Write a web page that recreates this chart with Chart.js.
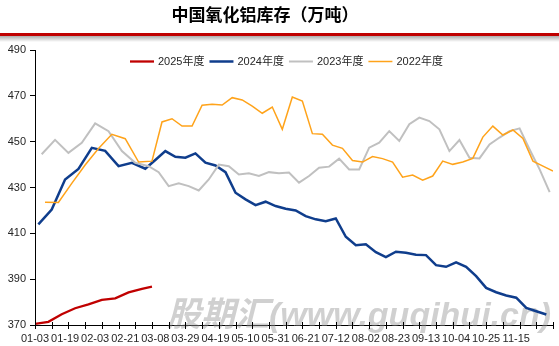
<!DOCTYPE html>
<html>
<head>
<meta charset="utf-8">
<script src="https://cdn.jsdelivr.net/npm/chart.js@4.4.1/dist/chart.umd.min.js"></script>
<style>
  html, body { margin: 0; padding: 0; background: #fff; }
  #wrap { width: 559px; height: 346px; }
</style>
</head>
<body>
<div id="wrap"><canvas id="chart" width="559" height="346"></canvas></div>
<script>
// Axis labels, one every 9 date slots
const xLabels = ['01-03', '01-19', '02-03', '02-21', '03-08', '03-29', '04-19', '05-10', '05-31',
                 '06-21', '07-12', '08-02', '08-23', '09-13', '10-04', '10-25', '11-15'];

// Weekly alumina inventory, 10k tonnes
const inv2025 = [370.5, 371.4, 374.7, 377.3, 379.0, 381.0, 381.6, 384.2, 385.8, 386.7];
const inv2024 = [413.9, 420.4, 433.5, 438.1, 447.3, 446.0, 439.3, 440.8, 438.2, 442.0,
                 445.9, 443.4, 443.0, 444.9, 440.8, 439.6, 436.7, 427.7, 424.8, 422.3,
                 423.8, 421.9, 420.7, 420.0, 417.5, 416.1, 415.3, 416.5, 408.5, 404.8,
                 405.2, 401.8, 399.6, 402.0, 401.5, 400.7, 400.5, 396.1, 395.4, 397.3,
                 395.4, 391.3, 386.2, 384.3, 382.9, 381.9, 377.5, 376.0, 374.6];
const inv2023 = [444.5, 450.8, 445.1, 449.5, 458.0, 454.6, 445.9, 440.8, 439.3, 436.7,
                 430.6, 431.8, 430.6, 428.7, 433.5, 440.0, 439.3, 435.7, 436.2, 435.0,
                 436.7, 436.2, 436.5, 432.1, 435.0, 438.6, 439.1, 442.6, 437.9, 437.9,
                 447.4, 449.6, 454.6, 450.3, 457.6, 460.5, 459.0, 455.4, 445.9, 450.7,
                 443.0, 442.7, 448.8, 451.8, 454.6, 455.8, 446.6, 437.9, 428.0];
const inv2022 = [423.6, 423.5, 431.8, 439.8, 447.0, 453.2, 451.3, 441.1, 441.5, 458.6,
                 460.0, 456.8, 456.8, 465.9, 466.3, 466.0, 469.2, 468.2, 465.5, 462.4,
                 465.1, 455.4, 469.5, 467.7, 453.5, 453.2, 448.5, 447.1, 441.8, 441.1,
                 443.5, 442.6, 441.1, 434.5, 435.4, 433.2, 435.0, 441.5, 440.1, 441.1,
                 442.7, 452.0, 456.8, 452.9, 455.1, 451.4, 441.5, 439.3, 437.2];

const seriesNames = ['2025年度', '2024年度', '2023年度', '2022年度'];

// The date axis holds every report date of all years in order. While all four
// years report, a week takes 4 slots; afterwards only 3 years remain, so 3 slots.
const FOUR_SLOT_WEEKS = 8;
const LABEL_EVERY = 9;
const TICK_EVERY = 5;
const LAST_SLOT = 155;
function slotOf(firstSlot, week) {
  return firstSlot + (week < FOUR_SLOT_WEEKS
    ? 4 * week
    : 4 * FOUR_SLOT_WEEKS + 3 * (week - FOUR_SLOT_WEEKS));
}
function toPoints(values, firstSlot) {
  return values.map((v, k) => ({ x: slotOf(firstSlot, k), y: v }));
}

const FONT = '"Liberation Sans", "Noto Sans CJK SC", sans-serif';
const TEXT = '#262626';

const series = [
  { label: seriesNames[0], data: toPoints(inv2025, 0), color: '#c00000', width: 2.3, order: 3 },
  { label: seriesNames[1], data: toPoints(inv2024, 1), color: '#0f3d8c', width: 2.5, order: 2 },
  { label: seriesNames[2], data: toPoints(inv2023, 2), color: '#c0c0c0', width: 2.0, order: 1 },
  { label: seriesNames[3], data: toPoints(inv2022, 3), color: '#ffa31a', width: 1.5, order: 0 }
];

// Heading, red rule, watermark, crossing tick marks and the inline legend
const decor = {
  id: 'decor',
  beforeDraw(chart) {
    const ctx = chart.ctx;
    ctx.save();
    ctx.fillStyle = '#fff';
    ctx.fillRect(0, 0, chart.width, chart.height);
    ctx.fillStyle = '#000';
    ctx.font = 'bold 17px "Noto Sans CJK SC", sans-serif';
    ctx.textAlign = 'center';
    ctx.textBaseline = 'middle';
    ctx.fillText('中国氧化铝库存（万吨）', 265, 15);
    ctx.fillStyle = '#c00000';
    ctx.fillRect(0, 33, chart.width, 3);
    const g = ctx.createLinearGradient(0, 36, 0, 42);
    g.addColorStop(0, 'rgba(0,0,0,0.32)');
    g.addColorStop(1, 'rgba(0,0,0,0)');
    ctx.fillStyle = g;
    ctx.fillRect(0, 36, chart.width, 6);
    ctx.restore();
  },
  beforeDatasetsDraw(chart) {
    const ctx = chart.ctx;
    ctx.save();
    ctx.font = 'italic bold 34px "Liberation Sans", "Noto Sans CJK SC", sans-serif';
    ctx.fillStyle = 'rgba(150,150,150,0.45)';
    ctx.textAlign = 'left';
    ctx.textBaseline = 'alphabetic';
    ctx.fillText('股期汇(www.guqihui.cn)', 167, 326);
    ctx.restore();
  },
  afterDraw(chart) {
    const ctx = chart.ctx;
    const xs = chart.scales.x;
    const area = chart.chartArea;
    ctx.save();
    ctx.strokeStyle = '#000';
    ctx.lineWidth = 1;
    ctx.beginPath();
    for (let v = 0; v <= LAST_SLOT; v += TICK_EVERY) {
      const px = Math.round(xs.getPixelForValue(v)) + 0.5;
      ctx.moveTo(px, area.bottom - 3);
      ctx.lineTo(px, area.bottom + 4);
    }
    ctx.stroke();

    // legend
    ctx.font = '11px ' + FONT;
    ctx.textBaseline = 'middle';
    ctx.textAlign = 'left';
    let x = 130;
    const y = 61.5;
    chart.data.datasets.forEach(ds => {
      ctx.strokeStyle = ds.borderColor;
      ctx.lineWidth = ds.borderWidth;
      ctx.beginPath();
      ctx.moveTo(x, y);
      ctx.lineTo(x + 24, y);
      ctx.stroke();
      ctx.fillStyle = TEXT;
      ctx.fillText(ds.label, x + 28, y + 0.5);
      x += 28 + ctx.measureText(ds.label).width + 5;
    });
    ctx.restore();
  }
};

new Chart(document.getElementById('chart'), {
  type: 'line',
  data: {
    datasets: series.map(s => ({
      label: s.label,
      data: s.data,
      borderColor: s.color,
      backgroundColor: s.color,
      borderWidth: s.width,
      order: s.order,
      pointRadius: 0,
      tension: 0,
      fill: false
    }))
  },
  options: {
    responsive: false,
    animation: false,
    devicePixelRatio: 1,
    layout: { padding: { top: 50, right: 6, bottom: 0, left: 0 } },
    plugins: {
      legend: { display: false },
      title: { display: false },
      tooltip: { enabled: false }
    },
    scales: {
      x: {
        type: 'linear',
        min: 0,
        max: LAST_SLOT,
        afterBuildTicks: s => { s.ticks = xLabels.map((_, i) => ({ value: i * LABEL_EVERY })); },
        afterFit: s => { s.height = 21; },
        ticks: {
          autoSkip: false,
          maxRotation: 0,
          minRotation: 0,
          padding: 7,
          color: TEXT,
          font: { size: 11, family: FONT },
          callback: v => xLabels[Math.round(v / LABEL_EVERY)] ?? ''
        },
        grid: { display: false, drawTicks: false },
        border: { display: true, color: '#000', width: 1 }
      },
      y: {
        min: 370,
        max: 490,
        afterFit: s => { s.width = 35; },
        ticks: {
          stepSize: 20,
          padding: 4,
          color: TEXT,
          font: { size: 11, family: FONT }
        },
        grid: { drawOnChartArea: false, tickLength: 5, color: '#000' },
        border: { display: true, color: '#000', width: 1 }
      }
    }
  },
  plugins: [decor]
});
</script>
</body>
</html>
